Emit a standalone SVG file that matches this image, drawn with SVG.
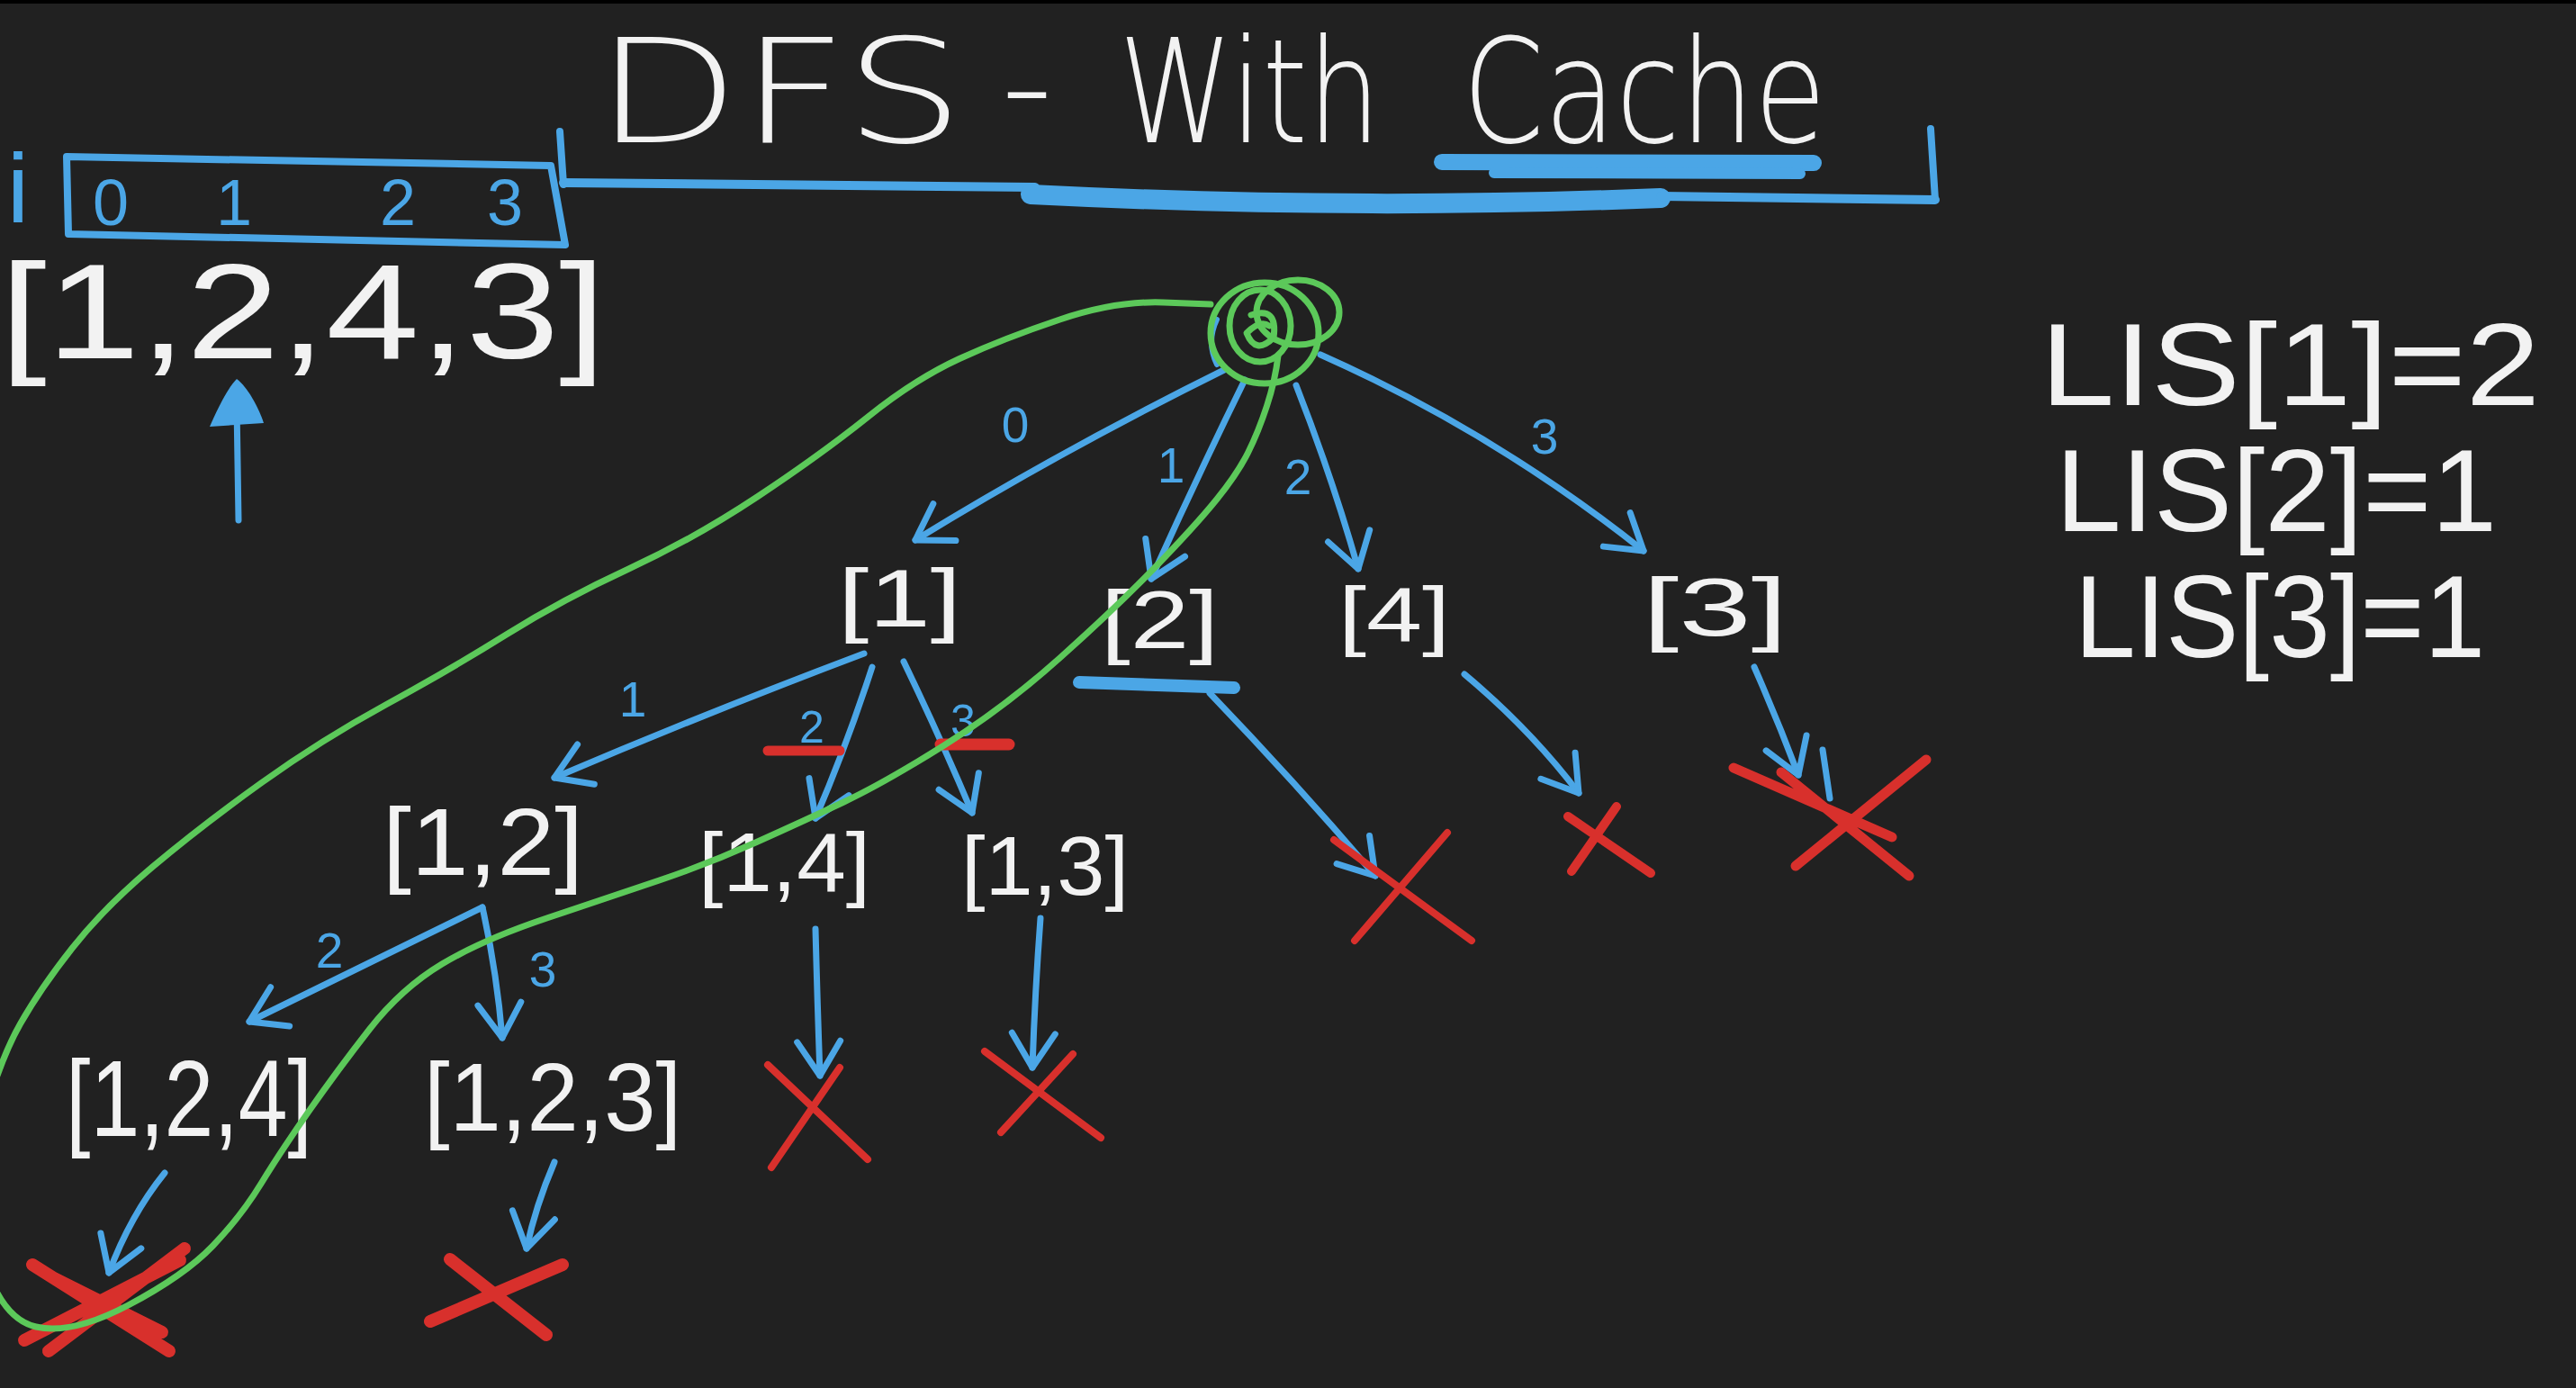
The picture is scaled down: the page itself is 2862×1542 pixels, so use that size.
<svg xmlns="http://www.w3.org/2000/svg" width="2862" height="1542" viewBox="0 0 2862 1542">
<defs>
<style>
.bl{stroke:#4ba6e6;fill:none;stroke-linecap:round;stroke-linejoin:round}
.rd{stroke:#d8302c;fill:none;stroke-linecap:round}
.gr{stroke:#5cc95a;fill:none;stroke-width:7;stroke-linecap:round;stroke-linejoin:round}
.wt{fill:#f2f2f2;font-family:"Liberation Sans",Arial,sans-serif}
.lb{fill:#4ba6e6;font-family:"Liberation Sans",Arial,sans-serif;text-anchor:middle}
.ttl{fill:#f2f2f2;font-family:"DejaVu Sans","Liberation Sans",sans-serif;font-weight:200;font-size:160px}
</style>
<marker id="ah" markerUnits="userSpaceOnUse" viewBox="-50 -40 60 80" markerWidth="60" markerHeight="80" refX="0" refY="0" orient="auto">
<path d="M-38 -24 L0 0 L-38 24" fill="none" stroke="#4ba6e6" stroke-width="7" stroke-linecap="round" stroke-linejoin="round"/>
</marker>
</defs>
<rect width="2862" height="1542" fill="#212121"/>
<rect width="2862" height="4" fill="#000"/>

<g id="title">
<text class="ttl" x="661" y="158" textLength="410" lengthAdjust="spacingAndGlyphs">DFS</text>
<text class="ttl" x="1112" y="150" textLength="58" lengthAdjust="spacingAndGlyphs">-</text>
<text class="ttl" x="1243" y="158" textLength="291" lengthAdjust="spacingAndGlyphs">With</text>
<text class="ttl" x="1625" y="158" textLength="404" lengthAdjust="spacingAndGlyphs">Cache</text>
<path class="bl" stroke-width="8" d="M622 146 L626 205"/>
<path class="bl" stroke-width="10" d="M626 203 L1150 208"/>
<path class="bl" stroke-width="22" d="M1145 216 Q1500 234 1845 220"/>
<path class="bl" stroke-width="10" d="M1845 218 L2150 222"/>
<path class="bl" stroke-width="8" d="M2145 143 L2150 222"/>
<path class="bl" stroke-width="18" d="M1602 180 L2015 181"/>
<path class="bl" stroke-width="12" d="M1660 192 L2000 193"/>
</g>

<g id="index-array">
<polygon class="bl" stroke-width="8" points="74,174 612,184 628,272 76,260"/>
<text class="lb" font-size="110" x="20" y="247">i</text>
<text class="lb" font-size="72" x="123" y="250">0</text>
<text class="lb" font-size="72" x="260" y="250">1</text>
<text class="lb" font-size="72" x="442" y="250">2</text>
<text class="lb" font-size="72" x="561" y="250">3</text>
</g>

<g id="array">
<text class="wt" font-size="150" x="0" y="398" textLength="673" lengthAdjust="spacingAndGlyphs">[1,2,4,3]</text>
<path class="bl" stroke-width="7" d="M265 578 L263 450"/>
<path d="M263 421 C252 432 240 458 233 474 L293 470 C287 452 275 430 263 421 Z" fill="#4ba6e6"/>
</g>

<g id="lis">
<text class="wt" font-size="130" x="2267" y="450" textLength="555" lengthAdjust="spacingAndGlyphs">LIS[1]=2</text>
<text class="wt" font-size="130" x="2284" y="590" textLength="490" lengthAdjust="spacingAndGlyphs">LIS[2]=1</text>
<text class="wt" font-size="130" x="2305" y="730" textLength="456" lengthAdjust="spacingAndGlyphs">LIS[3]=1</text>
</g>

<g id="connectors">
<path class="bl" stroke-width="7" marker-end="url(#ah)" d="M1360 411 Q1180 500 1017 600"/>
<path class="bl" stroke-width="7" marker-end="url(#ah)" d="M1383 422 Q1330 530 1279 643"/>
<path class="bl" stroke-width="7" marker-end="url(#ah)" d="M1440 428 Q1480 530 1509 632"/>
<path class="bl" stroke-width="7" marker-end="url(#ah)" d="M1467 394 Q1660 480 1826 612"/>
<path class="bl" stroke-width="7" marker-end="url(#ah)" d="M960 726 Q790 790 616 864"/>
<path class="bl" stroke-width="7" marker-end="url(#ah)" d="M969 741 Q940 830 906 909"/>
<path class="bl" stroke-width="7" marker-end="url(#ah)" d="M1004 735 Q1045 820 1080 903"/>
<path class="bl" stroke-width="7" marker-end="url(#ah)" d="M536 1008 Q402 1074 277 1135"/>
<path class="bl" stroke-width="7" marker-end="url(#ah)" d="M536 1008 Q552 1080 558 1153"/>
<path class="bl" stroke-width="7" marker-end="url(#ah)" d="M906 1032 Q908 1110 911 1195"/>
<path class="bl" stroke-width="7" marker-end="url(#ah)" d="M1156 1020 Q1150 1100 1147 1186"/>
<path class="bl" stroke-width="7" marker-end="url(#ah)" d="M183 1303 Q145 1350 121 1414"/>
<path class="bl" stroke-width="7" marker-end="url(#ah)" d="M616 1291 Q595 1340 585 1387"/>
<path class="bl" stroke-width="14" d="M1199 758 L1371 764"/>
<path class="bl" stroke-width="7" marker-end="url(#ah)" d="M1344 770 Q1440 870 1528 973"/>
<path class="bl" stroke-width="7" marker-end="url(#ah)" d="M1627 749 Q1700 810 1754 881"/>
<path class="bl" stroke-width="7" marker-end="url(#ah)" d="M1949 741 Q1975 800 1998 861"/>
<path class="bl" stroke-width="7" d="M2025 833 L2033 887"/>
<path class="bl" stroke-width="6" d="M1352 405 Q1340 380 1352 355"/>
</g>

<g id="edge-labels">
<text class="lb" font-size="55" x="1128" y="491">0</text>
<text class="lb" font-size="55" x="1301" y="536">1</text>
<text class="lb" font-size="55" x="1442" y="549">2</text>
<text class="lb" font-size="55" x="1716" y="504">3</text>
<text class="lb" font-size="55" x="703" y="796">1</text>
<text class="lb" font-size="50" x="902" y="825">2</text>
<text class="lb" font-size="50" x="1070" y="818">3</text>
<text class="lb" font-size="55" x="366" y="1075">2</text>
<text class="lb" font-size="55" x="603" y="1096">3</text>
<path class="rd" stroke-width="11" d="M853 834 L933 834"/>
<path class="rd" stroke-width="13" d="M1045 827 L1121 827"/>
</g>

<g id="root">
<ellipse class="gr" cx="1405" cy="370" rx="60" ry="56"/>
<ellipse class="gr" cx="1442" cy="347" rx="46" ry="36"/>
<ellipse class="gr" cx="1400" cy="362" rx="34" ry="40"/>
<path class="gr" d="M1390 350 Q1420 340 1415 375 Q1395 395 1385 370 Q1400 355 1410 362"/>
</g>

<g id="n1"><text class="wt" font-size="90" x="931" y="696" textLength="137" lengthAdjust="spacingAndGlyphs">[1]</text></g>
<g id="n2"><text class="wt" font-size="90" x="1223" y="720" textLength="131" lengthAdjust="spacingAndGlyphs">[2]</text></g>
<g id="n4"><text class="wt" font-size="85" x="1487" y="712" textLength="124" lengthAdjust="spacingAndGlyphs">[4]</text></g>
<g id="n3"><text class="wt" font-size="90" x="1825" y="706" textLength="161" lengthAdjust="spacingAndGlyphs">[3]</text></g>
<g id="n12"><text class="wt" font-size="105" x="425" y="972" textLength="223" lengthAdjust="spacingAndGlyphs">[1,2]</text></g>
<g id="n14"><text class="wt" font-size="92" x="776" y="990" textLength="191" lengthAdjust="spacingAndGlyphs">[1,4]</text></g>
<g id="n13"><text class="wt" font-size="92" x="1068" y="994" textLength="186" lengthAdjust="spacingAndGlyphs">[1,3]</text></g>
<g id="n124"><text class="wt" font-size="120" x="73" y="1262" textLength="274" lengthAdjust="spacingAndGlyphs">[1,2,4]</text></g>
<g id="n123"><text class="wt" font-size="108" x="471" y="1256" textLength="286" lengthAdjust="spacingAndGlyphs">[1,2,3]</text></g>

<g id="x-2"><path class="rd" stroke-width="8" d="M1505 1045 L1608 925 M1482 933 L1635 1045"/></g>
<g id="x-4"><path class="rd" stroke-width="10" d="M1746 968 L1796 896 M1742 907 L1834 970"/></g>
<g id="x-3"><path class="rd" stroke-width="11" d="M1926 853 L2102 930 M1979 858 L2121 973 M1995 962 L2140 844"/></g>
<g id="x-14"><path class="rd" stroke-width="8" d="M857 1297 L933 1186 M853 1183 L964 1288"/></g>
<g id="x-13"><path class="rd" stroke-width="8" d="M1112 1258 L1192 1171 M1094 1168 L1223 1264"/></g>
<g id="x-124"><path class="rd" stroke-width="14" d="M36 1405 L188 1501 M54 1501 L205 1387 M27 1489 L200 1400 M60 1420 L180 1480"/></g>
<g id="x-123"><path class="rd" stroke-width="14" d="M500 1399 L607 1483 M478 1468 L625 1405"/></g>

<g id="green-path">
<path class="gr" d="M1345 338 L1292.5 336 Q1240 334 1177.5 355 Q1115 376 1066 398.5 Q1017 421 964.5 463 Q912 505 842 551.5 Q772 598 698.5 632 Q625 666 562.5 705 Q500 744 428.5 783 Q357 822 290 870 Q223 918 169.5 963 Q116 1008 80.5 1053 Q45 1098 22.5 1137.5 Q0 1177 -20 1248.5 Q-40 1320 -20 1392.5 Q0 1465 40 1474 Q80 1483 142.5 1450 Q205 1417 236.5 1384 Q268 1351 290 1315 Q312 1279 343.5 1234 Q375 1189 410.5 1143.5 Q446 1098 491 1071 Q536 1044 607.5 1020 Q679 996 732.5 978 Q786 960 839.5 936 Q893 912 937.5 891 Q982 870 1049 828 Q1116 786 1178 730.5 Q1240 675 1284.5 629 Q1329 583 1352 554.5 Q1375 526 1386.5 503 Q1398 480 1407.5 451 Q1417 422 1420 395"/>
</g>
</svg>
